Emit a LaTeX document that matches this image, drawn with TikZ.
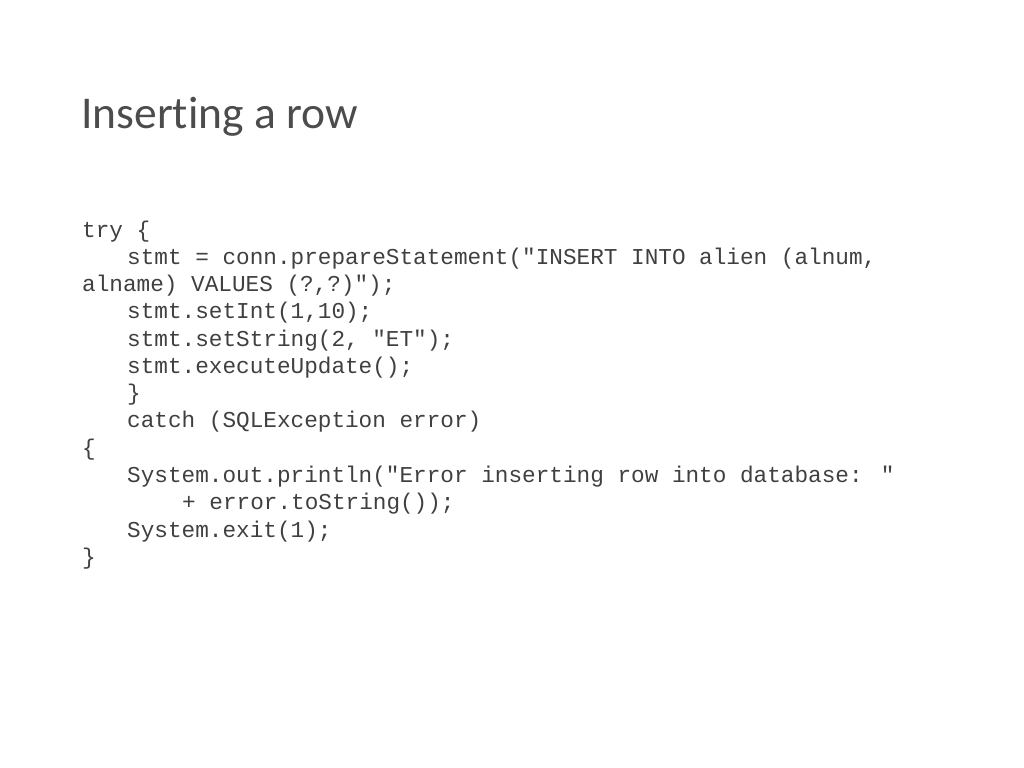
\documentclass[tikz,border=0pt]{standalone}
\usepackage{fontspec}
\setmainfont{Carlito}[Ligatures=NoCommon]
\newfontfamily\codefont{Liberation Mono}
\usetikzlibrary{positioning}

\begin{document}
\begin{tikzpicture}[x=1bp,y=-1bp,
  code line/.style={anchor=base west,inner sep=0pt,font=\codefont\fontsize{22.7bp}{27bp}\selectfont,text=black!75},
  title text/.style={anchor=base west,inner sep=0pt,font=\fontsize{45.5bp}{54bp}\selectfont,text=black!70}]
  \useasboundingbox (0,0) rectangle (1024,768);

  \node[title text] (title) at (81,128) {Inserting a row};

  \node[code line] (l1) at (82,237) {try \{};
  \node[code line] (l2) at (127,264) {stmt = conn.prepareStatement("INSERT INTO alien (alnum,};
  \node[code line] (l3) at (82,291) {alname) VALUES (?,?)");};
  \node[code line] (l4) at (127,318) {stmt.setInt(1,10);};
  \node[code line] (l5) at (127,346) {stmt.setString(2, "ET");};
  \node[code line] (l6) at (127,373) {stmt.executeUpdate();};
  \node[code line] (l7) at (127,400) {\}};
  \node[code line] (l8) at (127,427) {catch (SQLException error)};
  \node[code line] (l9) at (82,455) {\{};
  \node[code line] (l10) at (127,482) {System.out.println("Error inserting row into database: "};
  \node[code line] (l11) at (182,509) {+ error.toString());};
  \node[code line] (l12) at (127,537) {System.exit(1);};
  \node[code line] (l13) at (82,564) {\}};
\end{tikzpicture}
\end{document}
